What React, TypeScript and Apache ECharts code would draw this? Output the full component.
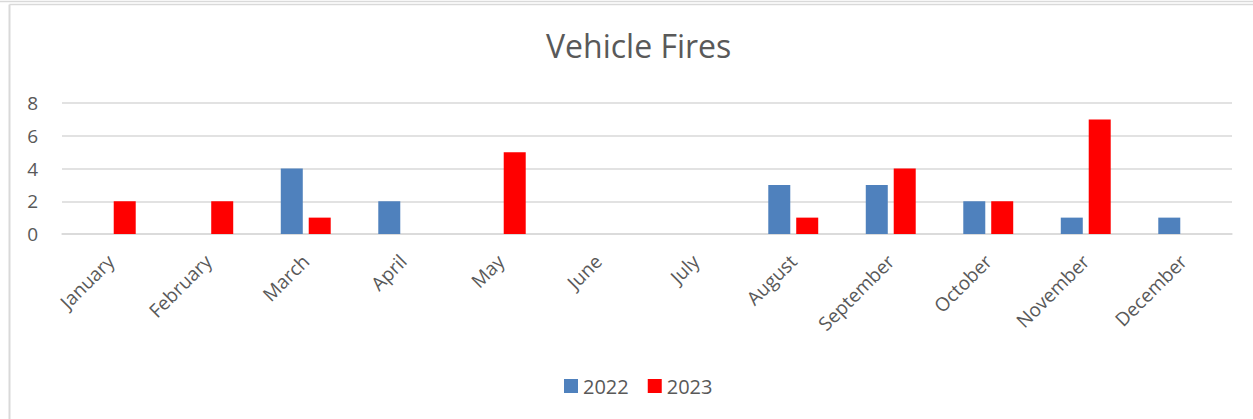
import React, { useEffect, useRef } from "react";
import * as echarts from "echarts";

const months = ["January", "February", "March", "April", "May", "June", "July", "August", "September", "October", "November", "December"];
const fires2022 = [0, 0, 4, 2, 0, 0, 0, 3, 3, 2, 1, 1];
const fires2023 = [2, 2, 1, 0, 5, 0, 0, 1, 4, 2, 7, 0];
const seriesNames = ["2022", "2023"];

export default function App() {
  const ref = useRef<HTMLDivElement>(null);
  useEffect(() => {
    document.body.style.margin = "0";
    const chart = echarts.init(ref.current!, null, { renderer: "svg" });
    const textColor = "#595959";
    const font = "Open Sans";
    chart.setOption({
      animation: false,
      backgroundColor: "#ffffff",
      title: {
        text: "Vehicle Fires",
        left: 541,
        top: 24,
        textStyle: { fontFamily: font, fontSize: 32, fontWeight: "normal", color: textColor },
      },
      grid: { left: 62, right: 21, top: 103, bottom: 185, containLabel: false },
      legend: {
        bottom: 18,
        left: 559,
        itemWidth: 14,
        itemHeight: 14,
        itemGap: 19,
        icon: "rect",
        textStyle: { fontFamily: font, fontSize: 20, color: textColor },
        data: seriesNames,
      },
      xAxis: {
        type: "category",
        data: months,
        axisLine: { show: true, lineStyle: { color: "#D9D9D9", width: 1.5 } },
        axisTick: { show: false },
        axisLabel: { rotate: 45, margin: 24, fontFamily: font, fontSize: 19, color: textColor, interval: 0 },
      },
      yAxis: {
        type: "value",
        min: 0,
        max: 8,
        interval: 2,
        axisLine: { show: false },
        axisTick: { show: false },
        splitLine: { lineStyle: { color: "#D9D9D9", width: 1.5 } },
        axisLabel: { margin: 24, fontFamily: font, fontSize: 19, color: textColor },
      },
      series: [
        {
          name: seriesNames[0],
          type: "bar",
          data: fires2022,
          barWidth: 22,
          barGap: "27%",
          itemStyle: { color: "#4F81BD" },
        },
        {
          name: seriesNames[1],
          type: "bar",
          data: fires2023,
          barWidth: 22,
          barGap: "27%",
          itemStyle: { color: "#FF0000" },
        },
      ],
      graphic: [
        { type: "line", shape: { x1: 0, y1: 1.5, x2: 1253, y2: 1.5 }, style: { stroke: "#D9D9D9", lineWidth: 1.5 } },
        { type: "line", shape: { x1: 9.5, y1: 4.5, x2: 1253, y2: 4.5 }, style: { stroke: "#D9D9D9", lineWidth: 1.5 } },
        { type: "line", shape: { x1: 9.5, y1: 4.5, x2: 9.5, y2: 419 }, style: { stroke: "#D9D9D9", lineWidth: 2 } },
      ],
    });
    return () => chart.dispose();
  }, []);
  return <div ref={ref} style={{ width: 1253, height: 419 }} />;
}
